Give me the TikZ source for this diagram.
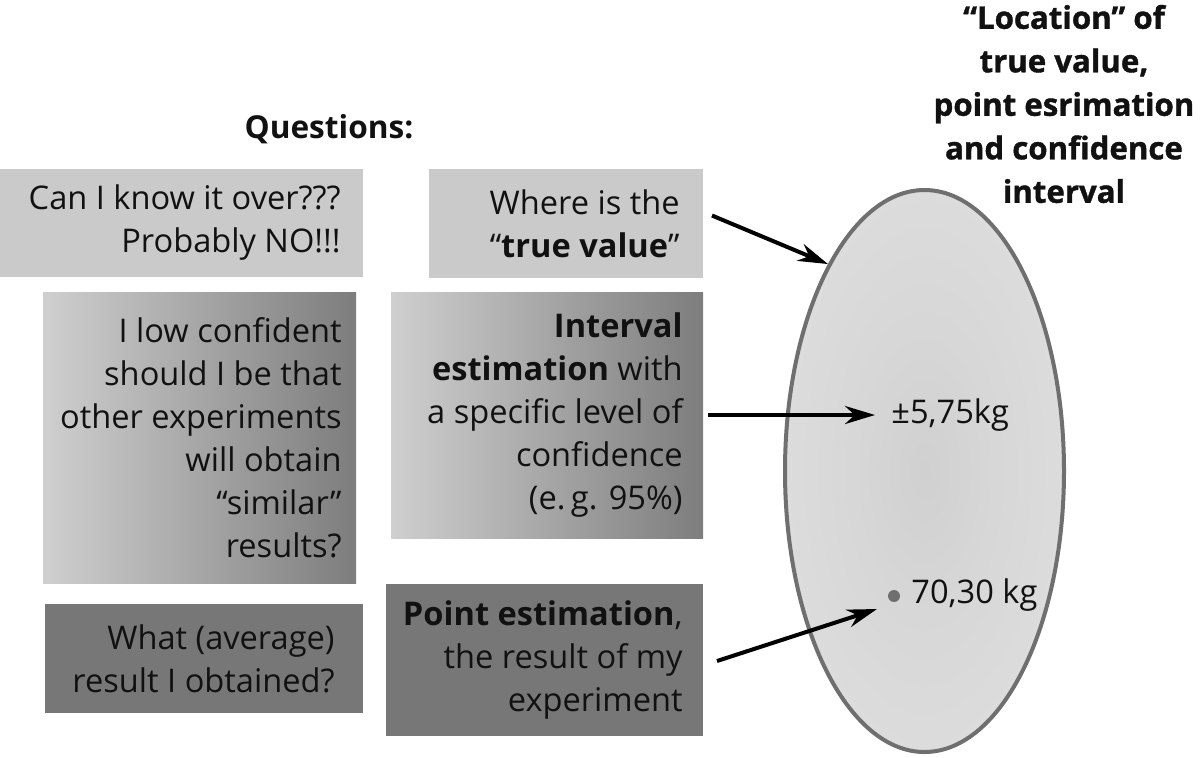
\documentclass[tikz,border=0pt]{standalone}
\usepackage{fontspec}
\setmainfont{Open Sans}[Ligatures=TeX]
\newfontfamily\heavyfont{Open Sans}[Ligatures=TeX, BoldFeatures={FakeBold=1.2}]
\usetikzlibrary{shapes.geometric,arrows.meta}
\definecolor{boxlight}{HTML}{CACACA}
\definecolor{boxdark}{HTML}{777777}
\definecolor{gradL}{HTML}{CFCFCF}
\definecolor{gradR}{HTML}{7D7D7D}
\definecolor{ellline}{HTML}{6F6F6F}
\definecolor{ellin}{HTML}{D0D0D0}
\definecolor{ellout}{HTML}{E6E6E6}
\definecolor{ink}{HTML}{111111}
\pgfdeclareradialshading{ellshade}{\pgfpoint{0bp}{0bp}}{color(0bp)=(ellin); color(12bp)=(ellin!70!ellout); color(50bp)=(ellout)}
\begin{document}
\begin{tikzpicture}[x=0.5pt,y=-0.5pt,
  qbox/.style={rectangle, inner sep=0pt, outer sep=0pt, draw=none},
  txt/.style={align=right, inner sep=0pt, text=ink, font=\fontsize{16.3}{21.5}\selectfont},
  arr/.style={line width=2pt, -{Stealth[length=15pt,width=9pt]}},
  lbl/.style={inner sep=0pt, anchor=west, text=ink, font=\fontsize{16.3}{21.5}\selectfont}]
\useasboundingbox (0,0) rectangle (1200,757);
% heading
\node[inner sep=0pt, text=ink, font=\fontsize{15.8}{21.5}\selectfont\bfseries] (q) at (329,129) {Questions:};
\node[inner sep=0pt, align=center, text=ink, font=\fontsize{15.6}{21.75}\selectfont\heavyfont\bfseries] (title) at (1064,104)
  {“Location” of\\true value,\\point esrimation\\and confidence\\interval};
% boxes
\node[qbox, fill=boxlight, minimum width=181.5pt, minimum height=54pt] (A) at (181.5,223) {};
\node[txt, anchor=east] (tA) at ([xshift=-11pt]A.east) {Can I know it over???\\Probably NO!!!};
\node[qbox, fill=boxlight, minimum width=137pt, minimum height=54.5pt] (B) at (566,223.5) {};
\node[txt, anchor=east] (tB) at ([xshift=-11.5pt]B.east) {Where is the\\“\textbf{true value}”};
\node[qbox, left color=gradL, right color=gradR, minimum width=156.5pt, minimum height=145.5pt] (C) at (199.5,437.5) {};
\node[txt, anchor=east] (tC) at ([xshift=-7pt]C.east) {I low confident\\should I be that\\other experiments\\will obtain\\“similar”\\results?};
\node[qbox, left color=gradL, right color=gradR, minimum width=156pt, minimum height=123pt] (D) at (547,415) {};
\node[txt, anchor=east] (tD) at ([xshift=-10pt]D.east) {\textbf{Interval}\\\textbf{estimation} with\\a specific level of\\confidence\\(e.\,g. 95\%)};
\node[qbox, fill=boxdark, minimum width=159pt, minimum height=54.5pt] (E) at (204,658.5) {};
\node[txt, anchor=east] (tE) at ([xshift=-14pt]E.east) {What (average)\\result I obtained?};
\node[qbox, fill=boxdark, minimum width=158.5pt, minimum height=76pt] (F) at (544.5,660) {};
\node[txt, anchor=east] (tF) at ([xshift=-10pt]F.east) {\textbf{Point estimation},\\the result of my\\experiment};
% ellipse
\node[ellipse, draw=ellline, line width=2pt, shade, shading=ellshade, inner sep=0pt,
      minimum width=139.5pt, minimum height=281pt] (ell) at (924.5,471) {};
\node[lbl] (pm) at (891,415) {±5,75kg};
\node[circle, fill=ellline, inner sep=0pt, minimum size=6pt] (dot) at (894,596) {};
\node[lbl] (val) at (911,595) {70,30 kg};
% arrows
\draw[arr] ([shift={(9,-8)}]B.east) -- (ell.115);
\draw[arr] ([xshift=2.5pt]D.east) -- ([xshift=-8pt]pm.west);
\draw[arr] ([shift={(14,1)}]F.east) -- ([shift={(-17,13)}]dot.center);
\end{tikzpicture}
\end{document}
